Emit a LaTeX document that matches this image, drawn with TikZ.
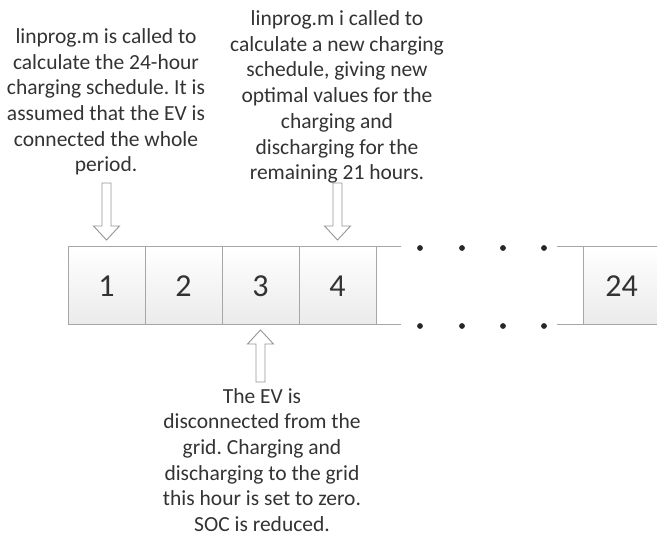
\documentclass[tikz,border=0pt]{standalone}
\usepackage{fontspec}
\setmainfont{Carlito}
\frenchspacing
\usetikzlibrary{positioning,calc}

\definecolor{txt}{HTML}{333333}
\definecolor{edge}{HTML}{A6A6A6}

\tikzset{
    hour/.style={draw=edge, line width=1pt, top color=white, bottom color=black!8,
        minimum width=77pt, minimum height=78pt, inner sep=0pt, outer sep=0pt,
        text=txt, font=\fontsize{32}{36}\selectfont},
    note/.style={align=center, text=txt, inner sep=0pt, font=\fontsize{21.5}{25.7}\selectfont},
    blockarrow/.style={draw=edge!90!black, line width=0.9pt, fill=white, line join=miter},
    gapline/.style={draw=edge, line width=1pt},
}

% hollow vertical block arrow from #1 (tail) to #2 (tip)
\newcommand{\hollowarrow}[2]{%
    \path[blockarrow] let \p1=#1, \p2=#2, \n1={sign(\y2-\y1)} in
        (\x1-4.5pt,\y1) -- (\x1-4.5pt,\y2-14pt*\n1) -- (\x1-13pt,\y2-14pt*\n1) --
        (\x2,\y2) -- (\x1+13pt,\y2-14pt*\n1) -- (\x1+4.5pt,\y2-14pt*\n1) --
        (\x1+4.5pt,\y1) -- cycle;
}

\begin{document}
\begin{tikzpicture}[x=1pt, y=-1pt]
    \useasboundingbox (0,0) rectangle (657,537);

    % the hours
    \node[hour] (h1) at (106.5,286) {1};
    \node[hour, right=0pt of h1] (h2) {2};
    \node[hour, right=0pt of h2] (h3) {3};
    \node[hour, right=0pt of h3] (h4) {4};
    \node[hour, anchor=west] (h24) at (583,286) {24};

    % open stretch between hour 4 and hour 24
    \path[gapline] (h4.north east) -- ++(25,0);
    \path[gapline] (h4.south east) -- ++(25,0);
    \path[gapline] (h24.north west) -- ++(-26,0);
    \path[gapline] (h24.south west) -- ++(-26,0);
    \foreach \x in {420,462,503,544} {
        \fill[black!85] (\x,248) circle (2.9);
        \fill[black!85] (\x,326) circle (2.9);
    }

    % notes
    \node[note] (note1) at (106,102) {linprog.m is called to\\calculate the 24-hour\\charging schedule. It is\\assumed that the EV is\\connected the whole\\period.};
    \node[note] (note4) at (337,97) {linprog.m i called to\\calculate a new charging\\schedule, giving new\\optimal values for the\\charging and\\discharging for the\\remaining 21 hours.};
    \node[note] (note3) at (262,460) {The EV is\\disconnected from the\\grid. Charging and\\discharging to the grid\\this hour is set to zero.\\SOC is reduced.};

    % arrows
    \hollowarrow{([yshift=64pt]h1.north)}{([yshift=7pt]h1.north)}
    \hollowarrow{([yshift=64pt]h4.north)}{([yshift=7pt]h4.north)}
    \hollowarrow{([yshift=-57pt]h3.south)}{([yshift=-5pt]h3.south)}

\end{tikzpicture}
\end{document}
